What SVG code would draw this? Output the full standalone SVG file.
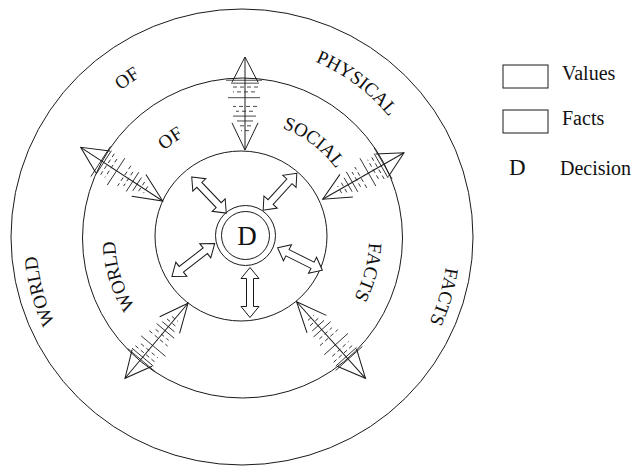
<svg xmlns="http://www.w3.org/2000/svg" width="633" height="467" viewBox="0 0 633 467">
<style>
.ln{fill:none;stroke:#1a1a1a;stroke-width:1}
.hs{fill:none;stroke:#1a1a1a;stroke-width:0.8}
.hd{fill:none;stroke:#1a1a1a;stroke-width:0.8;stroke-dasharray:4 3}
.dbl{fill:#fff;stroke:#1a1a1a;stroke-width:1}
.lbl{font-family:"Liberation Serif","Times New Roman",serif;font-size:19px;fill:#111}
.leg{font-family:"Liberation Serif","Times New Roman",serif;font-size:20px;fill:#111}
</style>
<defs>
  <path id="dbl" d="M-25,0 L-14,-9 L-14,-3.5 L14,-3.5 L14,-9 L25,0 L14,9 L14,3.5 L-14,3.5 L-14,9 Z"/>
  <g id="big">
    <path class="ln" d="M26,-13 L0,0 L26,13"/>
    <line class="ln" x1="0" y1="0" x2="96" y2="0"/>
    <path class="ln" d="M68,-13 L96,0 L68,13"/>
    <path class="hs" d="M24,-17 V19 M27,-14 V14 M42,-15 V17 M61,-11 V12 M66,-8 V8"/>
    <path class="hd" d="M31,-13 V13 M36,-10 V12 M51,-12 V12 M56,-8 V9 M71,-6 V6 M76,-4 V4"/>
  </g>
  <path id="pWO" d="M242,443 A206,206 0 1,1 242,31 A206,206 0 1,1 242,443"/>
  <path id="pOF" d="M242,427 A190,190 0 1,1 242,47 A190,190 0 1,1 242,427"/>
  <path id="pIW" d="M242,365 A127,127 0 1,1 242,111 A127,127 0 1,1 242,365"/>
  <path id="pIO" d="M242,355 A117,117 0 1,1 242,121 A117,117 0 1,1 242,355"/>
</defs>

<g id="outer-ring">
  <ellipse class="ln" cx="242" cy="237" rx="231" ry="228"/>
  <text class="lbl"><textPath href="#pWO" startOffset="269.6" text-anchor="middle">WORLD</textPath></text>
  <text class="lbl"><textPath href="#pOF" startOffset="477.5" text-anchor="middle">OF</textPath></text>
  <text class="lbl"><textPath href="#pOF" startOffset="718.3" text-anchor="middle">PHYSICAL</textPath></text>
  <text class="lbl"><textPath href="#pWO" startOffset="1029.7" text-anchor="middle">FACTS</textPath></text>
</g>

<g id="middle-ring">
  <ellipse class="ln" cx="242.5" cy="238" rx="160" ry="160"/>
  <text class="lbl"><textPath href="#pIW" startOffset="161.4" text-anchor="middle">WORLD</textPath></text>
  <text class="lbl"><textPath href="#pIO" startOffset="294.5" text-anchor="middle">OF</textPath></text>
  <text class="lbl"><textPath href="#pIO" startOffset="442.7" text-anchor="middle">SOCIAL</textPath></text>
  <text class="lbl"><textPath href="#pIW" startOffset="631.7" text-anchor="middle">FACTS</textPath></text>
</g>

<g id="inner-ring">
  <ellipse class="ln" cx="241" cy="236" rx="86" ry="85"/>
</g>

<g id="decision">
  <circle class="ln" cx="245.5" cy="235.5" r="30"/>
  <circle class="ln" cx="245.5" cy="235.5" r="24"/>
  <text x="247" y="245" text-anchor="middle" style="font-family:'Liberation Serif','Times New Roman',serif;font-size:27px;fill:#111">D</text>
</g>

<g id="connectors">
  <use href="#big" transform="translate(245,57) rotate(90) scale(0.969,1)"/>
  <use href="#big" transform="translate(80.7,147.3) rotate(33.2) scale(1.021,1)"/>
  <use href="#big" transform="translate(404,152.7) rotate(150.2) scale(0.976,1)"/>
  <use href="#big" transform="translate(125,378.3) rotate(-50) scale(1.021,1)"/>
  <use href="#big" transform="translate(365.5,378.3) rotate(-132) scale(1.073,1)"/>
  <use href="#dbl" class="dbl" transform="translate(209,195) rotate(46.3)"/>
  <use href="#dbl" class="dbl" transform="translate(280,191.7) rotate(-47.7)"/>
  <use href="#dbl" class="dbl" transform="translate(193.3,260) rotate(-37.6) scale(1.08,1)"/>
  <use href="#dbl" class="dbl" transform="translate(300,259) rotate(26.6)"/>
  <use href="#dbl" class="dbl" transform="translate(250,292.5) rotate(90)"/>
</g>

<g id="legend">
  <rect class="ln" x="503" y="65" width="45" height="23"/>
  <text class="leg" x="562" y="80">Values</text>
  <rect class="ln" x="503" y="110" width="45" height="23"/>
  <text class="leg" x="562" y="125">Facts</text>
  <text x="509" y="175" style="font-family:'Liberation Serif','Times New Roman',serif;font-size:23px;fill:#111">D</text>
  <text class="leg" x="560" y="175">Decision</text>
</g>
</svg>
